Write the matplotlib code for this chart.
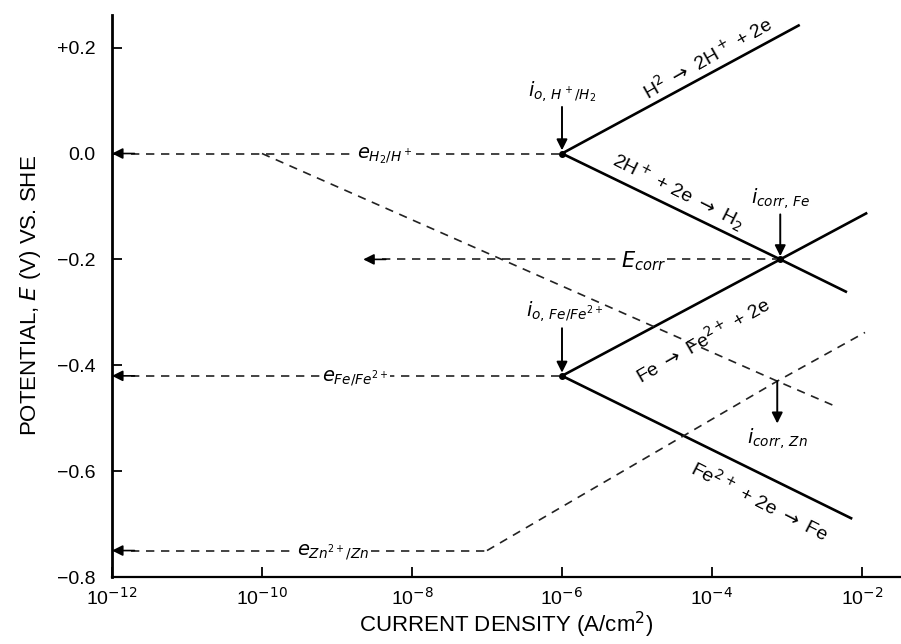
import matplotlib.pyplot as plt

plt.rcParams['font.family'] = ['Liberation Sans', 'DejaVu Sans']
plt.rcParams['mathtext.fontset'] = 'dejavusans'

# tick labels
x_ticks = [1e-12, 1e-10, 1e-8, 1e-6, 1e-4, 1e-2]
x_labels = ['10$^{-12}$', '10$^{-10}$', '10$^{-8}$', '10$^{-6}$', '10$^{-4}$', '10$^{-2}$']
y_ticks = [-0.8, -0.6, -0.4, -0.2, 0.0, 0.2]
y_labels = ['\u22120.8', '\u22120.6', '\u22120.4', '\u22120.2', '0.0', '+0.2']

# key points (current density A/cm2, potential V)
i0_H, e_H = 1e-6, 0.0
i0_Fe, e_Fe = 1e-6, -0.42
i0_Zn, e_Zn = 1e-7, -0.75
i0_H_on_Zn = 1e-10
i_corr_Fe, E_corr_Fe = 10**-3.09, -0.20
i_corr_Zn, E_corr_Zn = 10**-3.13, -0.43
i_axis = 1e-12
i_Ecorr_arrow = 10**-8.65

# solid polarization lines
h_anodic_i = [i0_H, 10**-2.83]
h_anodic_E = [e_H, 0.243]
h_cathodic_i = [i0_H, i_corr_Fe, 10**-2.2]
h_cathodic_E = [e_H, E_corr_Fe, -0.262]
fe_anodic_i = [i0_Fe, i_corr_Fe, 10**-1.93]
fe_anodic_E = [e_Fe, E_corr_Fe, -0.112]
fe_cathodic_i = [i0_Fe, 10**-2.13]
fe_cathodic_E = [e_Fe, -0.69]

# dashed lines (zinc case)
h_zn_i = [i0_H_on_Zn, i_corr_Zn, 10**-2.33]
h_zn_E = [e_H, E_corr_Zn, -0.479]
zn_anodic_i = [i0_Zn, i_corr_Zn, 10**-1.96]
zn_anodic_E = [e_Zn, E_corr_Zn, -0.338]

fig = plt.figure(figsize=(9.01, 6.44), dpi=100)
ax = fig.add_axes([0.1243, 0.104, 0.8757, 0.873])
ax.set_xscale('log')
ax.set_xlim(1e-12, 10**-1.48)
ax.set_ylim(-0.8, 0.262)

solid = dict(color='black', lw=1.9, solid_capstyle='butt')
dash = dict(color='#222222', lw=1.2, linestyle=(0, (5, 4)))

ax.plot(h_anodic_i, h_anodic_E, **solid)
ax.plot(h_cathodic_i, h_cathodic_E, **solid)
ax.plot(fe_anodic_i, fe_anodic_E, **solid)
ax.plot(fe_cathodic_i, fe_cathodic_E, **solid)

ax.plot(h_zn_i, h_zn_E, **dash)
ax.plot(zn_anodic_i, zn_anodic_E, **dash)

# horizontal dashed lines with arrows toward the potential axis
horiz = [(e_H, i0_H, i_axis), (e_Fe, i0_Fe, i_axis), (e_Zn, i0_Zn, i_axis),
         (E_corr_Fe, i_corr_Fe, i_Ecorr_arrow)]
for E, i_right, i_left in horiz:
    ax.plot([i_left * 10**0.25, i_right], [E, E], **dash)
    ax.annotate('', xy=(i_left, E), xytext=(i_left * 10**0.3, E),
                arrowprops=dict(arrowstyle='-|>', color='black', lw=1.2,
                                mutation_scale=16, shrinkA=0, shrinkB=0))

# points
ax.plot([i0_H, i0_Fe, i_corr_Fe], [e_H, e_Fe, E_corr_Fe], 'o', color='black', ms=4)

# vertical arrows
down = dict(arrowstyle='-|>', color='black', lw=1.4, mutation_scale=16,
            shrinkA=0, shrinkB=0)
ax.annotate('', xy=(i0_H, e_H + 0.006), xytext=(i0_H, 0.088), arrowprops=down)
ax.annotate('', xy=(i_corr_Fe, E_corr_Fe + 0.006), xytext=(i_corr_Fe, -0.115), arrowprops=down)
ax.annotate('', xy=(i0_Fe, e_Fe + 0.006), xytext=(i0_Fe, -0.33), arrowprops=down)
ax.annotate('', xy=(i_corr_Zn, -0.51), xytext=(i_corr_Zn, E_corr_Zn), arrowprops=down)

# labels
fs = 14
rfs = 14
white = dict(facecolor='white', edgecolor='none', pad=1)
ax.text(i0_H, 0.117, r'$i_{o,\,H^+/H_2}$', fontsize=fs, ha='center', va='center')
ax.text(10**-4.05, 0.18, r'H$^2$ $\rightarrow$ 2H$^+$ + 2e', fontsize=rfs,
        rotation=29.6, ha='center', va='center', rotation_mode='anchor')
ax.text(10**-4.45, -0.072, r'2H$^+$ + 2e $\rightarrow$ H$_2$', fontsize=rfs,
        rotation=-26.7, ha='center', va='center', rotation_mode='anchor')
ax.text(i_corr_Fe, -0.085, r'$i_{corr,\,Fe}$', fontsize=fs, ha='center', va='center')
ax.text(10**-4.92, -0.204, r'$E_{corr}$', fontsize=15, ha='center', va='center', bbox=white)
ax.text(10**-8.36, -0.004, r'$e_{H_2/H^+}$', fontsize=fs, ha='center', va='center', bbox=white)
ax.text(10**-5.96, -0.298, r'$i_{o,\,Fe/Fe^{2+}}$', fontsize=fs, ha='center', va='center')
ax.text(10**-8.76, -0.424, r'$e_{Fe/Fe^{2+}}$', fontsize=fs, ha='center', va='center', bbox=white)
ax.text(10**-9.05, -0.752, r'$e_{Zn^{2+}/Zn}$', fontsize=fs, ha='center', va='center', bbox=white)
ax.text(10**-4.12, -0.352, r'Fe $\rightarrow$ Fe$^{2+}$ + 2e', fontsize=rfs,
        rotation=29.9, ha='center', va='center', rotation_mode='anchor')
ax.text(i_corr_Zn, -0.538, r'$i_{corr,\,Zn}$', fontsize=fs, ha='center', va='center')
ax.text(10**-3.37, -0.656, r'Fe$^{2+}$ + 2e $\rightarrow$ Fe', fontsize=rfs,
        rotation=-27, ha='center', va='center', rotation_mode='anchor')

# axes styling
ax.spines['top'].set_visible(False)
ax.spines['right'].set_visible(False)
ax.spines['left'].set_linewidth(2.0)
ax.spines['bottom'].set_linewidth(1.6)
ax.set_xticks(x_ticks)
ax.set_xticklabels(x_labels)
ax.xaxis.set_minor_locator(plt.NullLocator())
ax.set_yticks(y_ticks)
ax.set_yticklabels(y_labels)
ax.tick_params(direction='in', length=7, width=1.3, labelsize=14)
ax.tick_params(axis='x', pad=7)
ax.tick_params(axis='y', pad=12)
ax.set_xlabel('CURRENT DENSITY (A/cm$^2$)', fontsize=16, labelpad=1)
ax.set_ylabel('POTENTIAL, $E$ (V) VS. SHE', fontsize=16, labelpad=10)

plt.savefig('out.png', dpi=100)
